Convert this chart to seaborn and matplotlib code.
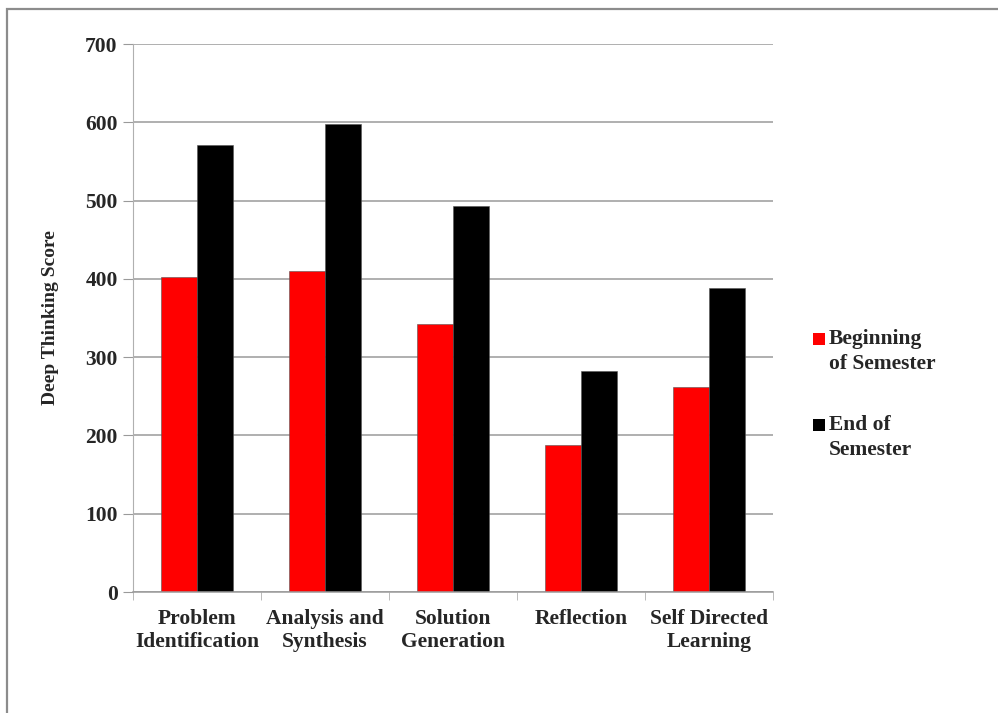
import matplotlib
matplotlib.use("Agg")
import matplotlib.pyplot as plt
from matplotlib.patches import Rectangle
import seaborn as sns
import pandas as pd

categories = ["Problem\nIdentification", "Analysis and\nSynthesis", "Solution\nGeneration",
              "Reflection", "Self Directed\nLearning"]
beginning = [402, 410, 342, 188, 262]
end = [571, 598, 493, 282, 388]
series_names = ["Beginning\nof Semester", "End of\nSemester"]
colors = ["#ff0000", "#000000"]

df = pd.DataFrame({
    "category": categories * 2,
    "score": beginning + end,
    "series": [series_names[0]] * len(categories) + [series_names[1]] * len(categories),
})

sns.set_style("white")
plt.rcParams["font.family"] = ["Liberation Serif", "DejaVu Serif"]
plt.rcParams["font.weight"] = "bold"

fig = plt.figure(figsize=(9.98, 7.13), dpi=100)
ax = fig.add_axes([133 / 998, 121 / 713, 640 / 998, 548 / 713])

sns.barplot(data=df, x="category", y="score", hue="series", palette=colors,
            width=0.5625, gap=0, ax=ax, legend=False, saturation=1,
            edgecolor="#555555", linewidth=0.4)

ax.set_ylim(0, 700)
ax.set_xlim(-0.5, 4.5)
ax.set_yticks(range(0, 701, 100))
ax.yaxis.grid(True, color="#9a9a9a", linewidth=1.1)
ax.set_axisbelow(True)
for s in ["top", "right"]:
    ax.spines[s].set_visible(False)
ax.spines["left"].set_color("#b0b0b0")
ax.spines["bottom"].set_color("#9a9a9a")
ax.spines["bottom"].set_linewidth(1.1)

# y ticks: short outward marks on the grid lines
ax.tick_params(axis="y", which="major", left=True, length=7, color="#9a9a9a",
               labelsize=15.5, pad=4)
ax.set_yticklabels([str(v) for v in range(0, 701, 100)], fontweight="bold")

# x: category labels centred, tick marks at category boundaries
ax.set_xticks(range(len(categories)))
ax.set_xticklabels(categories, fontsize=15.5, fontweight="bold", linespacing=1.2)
ax.tick_params(axis="x", which="major", length=0, pad=12)
ax.set_xticks([i - 0.5 for i in range(len(categories) + 1)], minor=True)
ax.tick_params(axis="x", which="minor", bottom=True, length=6, color="#b0b0b0")

ax.set_xlabel("")
ax.set_ylabel("Deep Thinking Score", fontsize=14, fontweight="bold", labelpad=19)

# legend on the right
legend_rows = [(338, series_names[0], colors[0]), (424, series_names[1], colors[1])]
for y_px, label, col in legend_rows:
    fig.patches.append(Rectangle((813 / 998, 1 - (y_px + 7) / 713), 12 / 998, 12 / 713,
                                 transform=fig.transFigure, facecolor=col,
                                 edgecolor="none"))
    fig.text(829 / 998, 1 - (y_px - 9) / 713, label, fontsize=15.5, fontweight="bold",
             va="top", ha="left", linespacing=1.33)

# outer chart frame
fig.patches.append(Rectangle((7 / 998, -0.05), 1.1, 1 - 9 / 713 + 0.05,
                             transform=fig.transFigure, facecolor="none",
                             edgecolor="#8c8c8c", linewidth=1.6))

fig.savefig("out.png", dpi=100)
